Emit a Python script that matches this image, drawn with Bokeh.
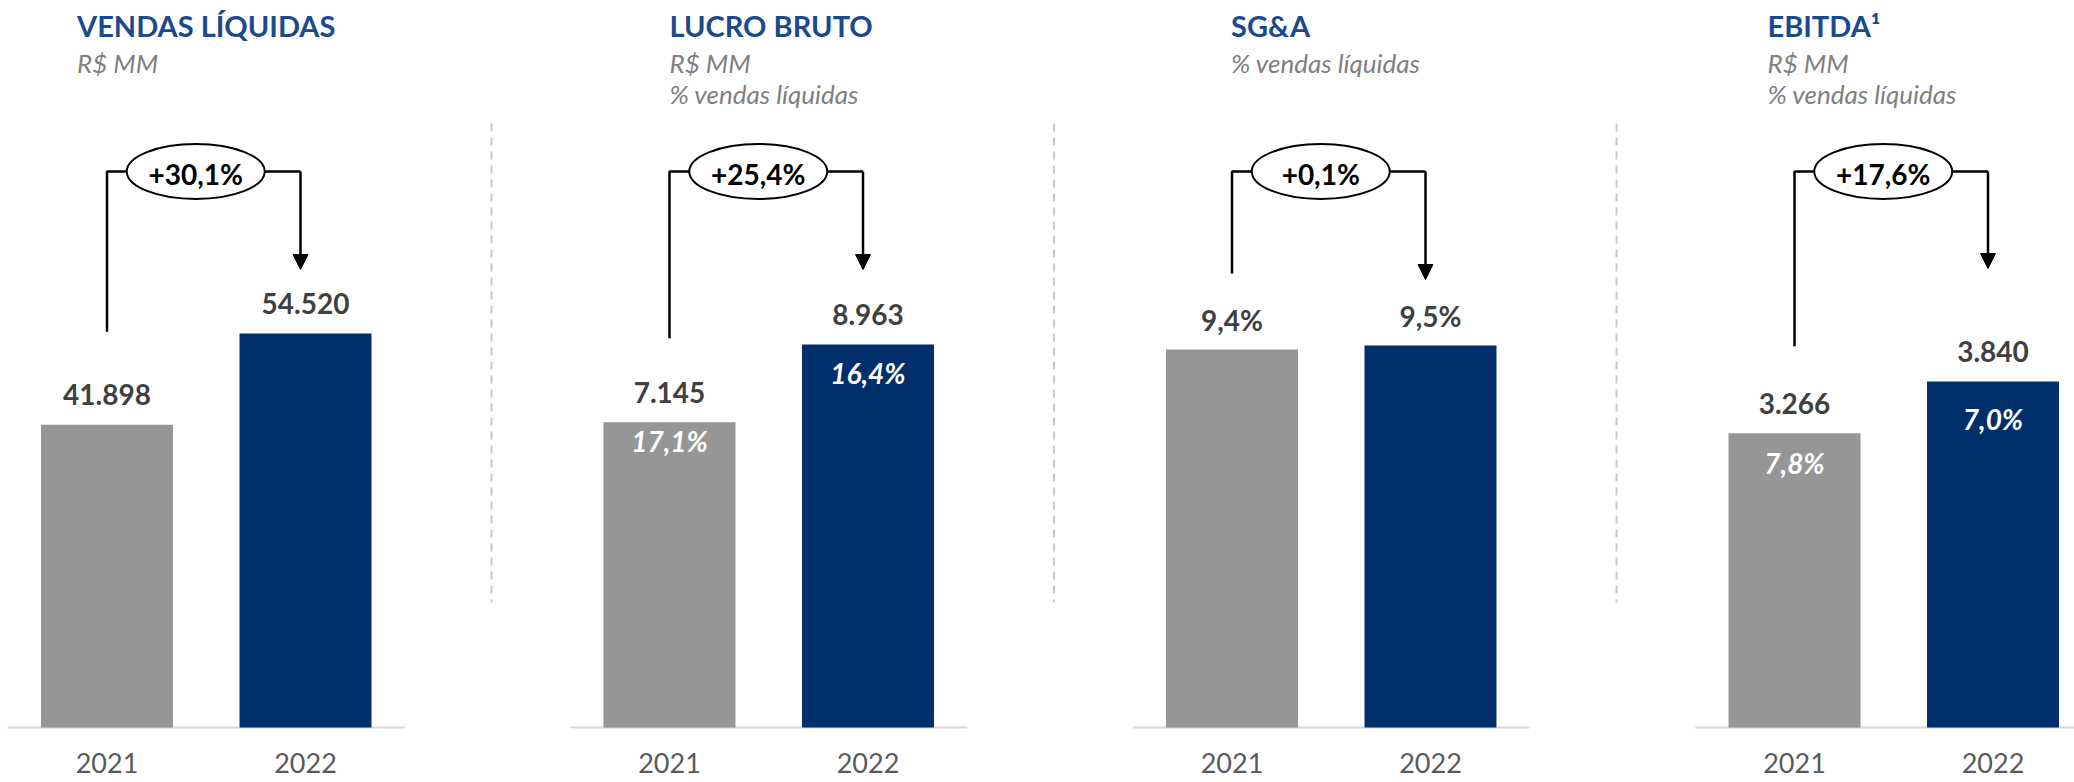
from bokeh.plotting import figure
from bokeh.models import Range1d, ColumnDataSource, Arrow, NormalHead
from bokeh.core.properties import value
from bokeh.embed import file_html
from bokeh.resources import INLINE

# ---------------- data ----------------
years = ["2021", "2022"]
titles = ["VENDAS LÍQUIDAS", "LUCRO BRUTO", "SG&A", "EBITDA¹"]
subtitles = [["R$ MM"], ["R$ MM", "% vendas líquidas"],
             ["% vendas líquidas"], ["R$ MM", "% vendas líquidas"]]
vendas_liquidas = [41898, 54520]
lucro_bruto = [7145, 8963]
sga_pct = [9.4, 9.5]
ebitda = [3266, 3840]
lucro_bruto_margem = [17.1, 16.4]
ebitda_margem = [7.8, 7.0]
variacao_pct = [30.1, 25.4, 0.1, 17.6]

panel_values = [vendas_liquidas, lucro_bruto, sga_pct, ebitda]
panel_is_pct = [False, False, True, False]
panel_margins = [None, lucro_bruto_margem, None, ebitda_margem]


def fmt_int(v):
    return f"{v:,}".replace(",", ".")


def fmt_pct(v):
    return f"{v:.1f}%".replace(".", ",")


# ---------------- layout / style ----------------
W, H = 2074, 782
BASE_PX = 727                 # baseline distance from top of frame
UNIT_PX = 198.5               # pixels per category unit
PITCH = 562.5 / UNIT_PX       # distance between panels, in category units
X_START = -106.5 / UNIT_PX
BAR_W = 132 / UNIT_PX
TOP_BAR_PX = [394, 383, 382, 346]   # drawn height of the tallest bar per panel
BRACKET_Y = 556
LEFT_GAP = [93, 84, 76, 87]         # bracket start above 2021 bar
ARROW_GAP = [64, 75, 66, 113]       # arrow tip above 2022 bar
MARGIN_OFF = {1: [19, 28], 3: [30, 37]}
TITLE_DX = [-30, 0, -1, -27]
TITLE_Y = 702
SUB_YS = [665, 634]

GRAY = "#969696"
BLUE = "#002F6C"
TITLE_BLUE = "#1B4A8C"
FONT = value("Lato")

p = figure(width=W, height=H, output_backend="svg", toolbar_location=None,
           x_range=Range1d(X_START, X_START + W / UNIT_PX),
           y_range=Range1d(-(H - BASE_PX), BASE_PX),
           x_axis_location=None, y_axis_location=None,
           min_border=0, outline_line_color=None)
p.grid.visible = False
p.background_fill_color = "white"


def px_scale(i):
    return max(panel_values[i]) / TOP_BAR_PX[i]


for i in range(4):
    s = px_scale(i)
    p.extra_y_ranges[f"p{i}"] = Range1d(-(H - BASE_PX) * s, BASE_PX * s)


def px_to(u):
    return u / UNIT_PX


for i, vals in enumerate(panel_values):
    xs = [i * PITCH + k for k in range(2)]
    labels = [fmt_pct(v) if panel_is_pct[i] else fmt_int(v) for v in vals]
    src = ColumnDataSource(dict(x=xs, top=vals, color=[GRAY, BLUE], label=labels))
    rn = f"p{i}"
    # baseline
    p.segment(x0=[xs[0] - 0.5], x1=[xs[1] + 0.5], y0=[0], y1=[0],
              line_color="#D9D9D9", line_width=2)
    p.vbar(x="x", top="top", bottom=0, width=BAR_W, fill_color="color",
           line_color=None, source=src, y_range_name=rn)
    p.text(x="x", y="top", text="label", source=src, y_range_name=rn,
           y_offset=-30, text_align="center", text_baseline="middle",
           text_font=FONT, text_font_style="bold", text_font_size="28px",
           text_color="#404040")
    if panel_margins[i] is not None:
        msrc = ColumnDataSource(dict(x=xs, top=vals,
                                     t=[fmt_pct(m) for m in panel_margins[i]],
                                     off=MARGIN_OFF[i]))
        p.text(x="x", y="top", text="t", source=msrc, y_range_name=rn,
               y_offset="off", text_align="center", text_baseline="middle",
               text_font=FONT, text_font_style="bold italic",
               text_font_size="28px", text_color="white")
    # years
    p.text(x=xs, y=[0, 0], text=years, y_offset=35, text_align="center",
           text_baseline="middle", text_font=FONT, text_font_size="27px",
           text_color="#595959")
    # titles
    p.text(x=[xs[0]], y=[TITLE_Y], text=[titles[i]], x_offset=TITLE_DX[i],
           text_align="left", text_baseline="middle", text_font=FONT,
           text_font_style="bold", text_font_size="29px", text_color=TITLE_BLUE)
    sub_ys = SUB_YS[:len(subtitles[i])]
    p.text(x=[xs[0]] * len(sub_ys), y=sub_ys, text=subtitles[i],
           x_offset=TITLE_DX[i], text_align="left", text_baseline="middle",
           text_font=FONT, text_font_style="italic", text_font_size="26px",
           text_color="#7F7F7F")
    # bracket
    s = px_scale(i)
    xl = xs[0]
    xr = xs[1] - px_to(5)
    y_left = vals[0] / s + LEFT_GAP[i]
    y_tip = vals[1] / s + ARROW_GAP[i]
    p.line(x=[xl, xl, xr], y=[y_left, BRACKET_Y, BRACKET_Y],
           line_color="black", line_width=2.5)
    p.add_layout(Arrow(x_start=xr, y_start=BRACKET_Y, x_end=xr, y_end=y_tip,
                       line_color="black", line_width=2.5,
                       end=NormalHead(size=15, fill_color="black",
                                      line_color="black", line_width=1)))
    ex = (xl + xr) / 2 - px_to(8)
    p.ellipse(x=[ex], y=[BRACKET_Y], width=138, height=55,
              width_units="screen", height_units="screen",
              fill_color="white", line_color="black", line_width=2)
    p.text(x=[ex], y=[BRACKET_Y], text=["+" + fmt_pct(variacao_pct[i])],
           y_offset=2, text_align="center", text_baseline="middle",
           text_font=FONT, text_font_style="bold", text_font_size="28px",
           text_color="black")

# dashed separators between panels
sep_x = [i * PITCH + 1 + (PITCH - 1) / 2 + px_to(4) for i in range(3)]
p.segment(x0=sep_x, x1=sep_x, y0=[604] * 3, y1=[125] * 3,
          line_color="#C8C8C8", line_width=2, line_dash="8 6")

open("out.html", "w").write(file_html(p, INLINE))
